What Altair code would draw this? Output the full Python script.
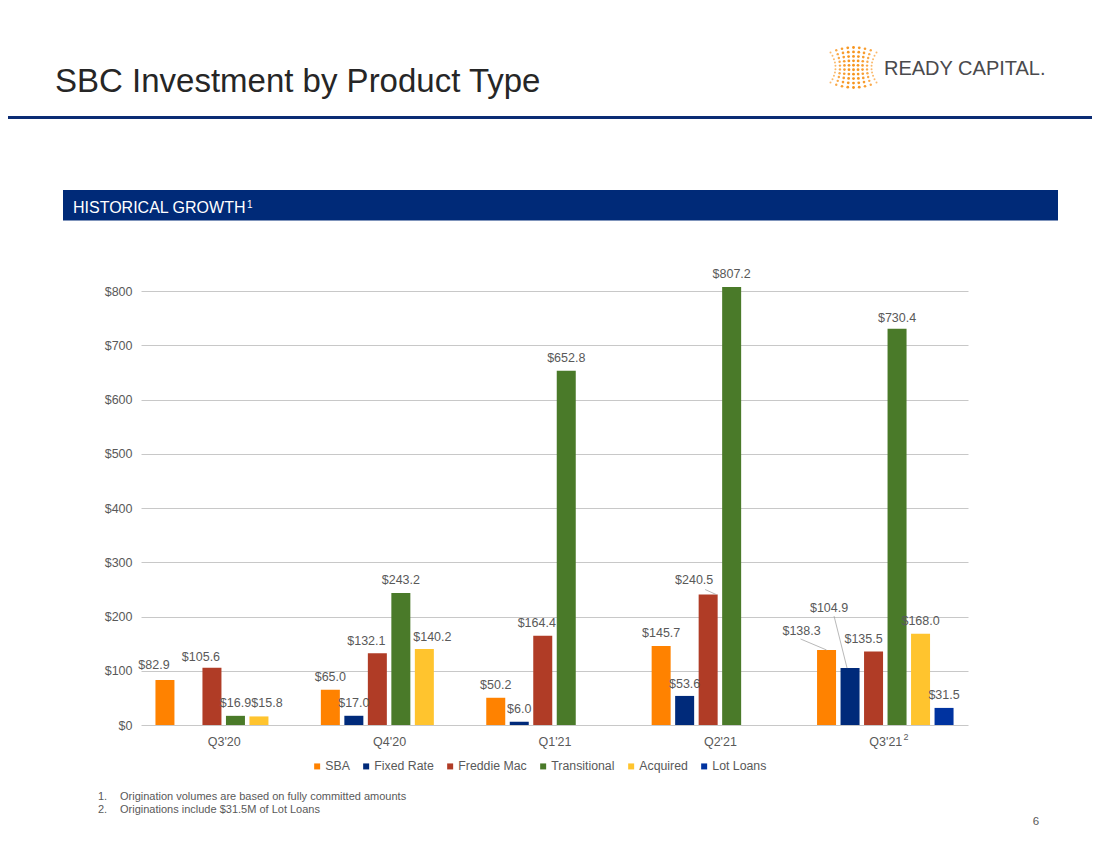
import json
import altair as alt
import pandas as pd

# ---------------- data ----------------
quarters = ["Q3'20", "Q4'20", "Q1'21", "Q2'21", "Q3'21"]
products = ["SBA", "Fixed Rate", "Freddie Mac", "Transitional", "Acquired", "Lot Loans"]
sba = [82.9, 65.0, 50.2, 145.7, 138.3]
fixed_rate = [None, 17.0, 6.0, 53.6, 104.9]
freddie_mac = [105.6, 132.1, 164.4, 240.5, 135.5]
transitional = [16.9, 243.2, 652.8, 807.2, 730.4]
acquired = [15.8, 140.2, None, None, 168.0]
lot_loans = [None, None, None, None, 31.5]
y_ticks = [0, 100, 200, 300, 400, 500, 600, 700, 800]

title_text = "SBC Investment by Product Type"
section_text = "HISTORICAL GROWTH"
section_note = "1"
logo_text = "READY CAPITAL."
footnote_numbers = ["1.", "2."]
footnotes = [
    "Origination volumes are based on fully committed amounts",
    "Originations include $31.5M of Lot Loans",
]
page_number = "6"
q3_21_note = "2"

# ---------------- styles ----------------
colors = ["#FF8200", "#002A7A", "#B03C26", "#4A7A29", "#FFC42E", "#0033A0"]
navy = "#0B2C74"
grey_text = "#595959"
FONT = "Liberation Sans"

# label nudges in px (dx, dy; dy positive = down)
label_nudge = {
    ("Q3'20", "SBA"): (-11, -2),
    ("Q3'20", "Freddie Mac"): (-11, 2),
    ("Q3'20", "Acquired"): (8, 0),
    ("Q4'20", "Freddie Mac"): (-11, 1),
    ("Q4'20", "Acquired"): (8, 1),
    ("Q1'21", "Freddie Mac"): (-6, 0),
    ("Q2'21", "Fixed Rate"): (0, 1),
    ("Q2'21", "Freddie Mac"): (-14, -2),
    ("Q3'21", "SBA"): (-25, -6),
    ("Q3'21", "Fixed Rate"): (-21, -47),
    ("Q3'21", "Freddie Mac"): (-10, 1),
    ("Q3'21", "Transitional"): (0, 2),
}
# leader lines: start (sx, sy) and end (ex, ey) in px relative to bar top centre
leader_lines = {
    ("Q2'21", "Freddie Mac"): (-3, -5, 8, 0),
    ("Q3'21", "SBA"): (-26, -11, 0, 0),
    ("Q3'21", "Fixed Rate"): (-16, -52, -3, 0),
}

# ---------------- layout ----------------
W, H = 827, 434
BAND = W / len(quarters)
SLOT = 23.5
BAR = 19
PXU = H / 800.0

series = [sba, fixed_rate, freddie_mac, transitional, acquired, lot_loans]
rows, lrows = [], []
for qi, q in enumerate(quarters):
    for pi, p in enumerate(products):
        v = series[pi][qi]
        if v is None:
            continue
        dx, dy = label_nudge.get((q, p), (0, 0))
        rows.append(dict(quarter=q, qi=qi, product=p, pi=pi, value=v, dx=dx, dy=dy))
        if (q, p) in leader_lines:
            sx, sy, ex, ey = leader_lines[(q, p)]
            lrows.append(dict(quarter=q, qi=qi, product=p, pi=pi, value=v,
                              sx=sx, sy=sy, ex=ex, ey=ey))
df = pd.DataFrame(rows)
ldf = pd.DataFrame(lrows)
one = pd.DataFrame({"k": [0]})

xscale = alt.Scale(domain=[0, len(quarters)], nice=False, zero=False)
yscale = alt.Scale(domain=[0, 800], nice=False)

xc_expr = f"datum.qi + 0.5 + (datum.pi - 2.5) * {SLOT / BAND}"

x_axis = alt.Axis(
    values=[i + 0.5 for i in range(len(quarters))],
    labelExpr=f"{json.dumps(quarters)}[floor(datum.value)]",
    grid=False, ticks=False, domain=False, title=None,
    labelFontSize=12.5, labelColor=grey_text, labelPadding=10, labelFont=FONT,
)
y_axis = alt.Axis(
    values=y_ticks, labelExpr="'$' + datum.value",
    grid=True, gridColor="#C8C8C8", gridWidth=1, ticks=False, domain=False, title=None,
    labelFontSize=12.5, labelColor=grey_text, labelPadding=9, labelFont=FONT,
)
legend = alt.Legend(
    title=None, orient="none", legendX=170, legendY=469, direction="horizontal",
    symbolType="square", symbolSize=36, symbolStrokeWidth=0,
    labelFontSize=12.3, labelColor=grey_text, labelFont=FONT,
    columnPadding=10, labelOffset=2, padding=0,
)

base = alt.Chart(df).transform_calculate(xc=xc_expr)

bars = base.transform_calculate(
    x0=f"datum.xc - {BAR / 2 / BAND}", x1=f"datum.xc + {BAR / 2 / BAND}"
).mark_rect().encode(
    x=alt.X("x0:Q", scale=xscale, axis=x_axis, title=None),
    x2="x1:Q",
    y=alt.Y("value:Q", scale=yscale, axis=y_axis, title=None),
    y2=alt.datum(0),
    color=alt.Color("product:N", scale=alt.Scale(domain=products, range=colors), legend=legend),
)

labels = base.transform_calculate(
    lx=f"datum.xc + datum.dx / {BAND}",
    ly=f"datum.value - datum.dy / {PXU}",
    label="'$' + format(datum.value, '.1f')",
).mark_text(baseline="alphabetic", dy=-9, fontSize=12.5, color=grey_text, font=FONT).encode(
    x=alt.X("lx:Q", scale=xscale, title=None),
    y=alt.Y("ly:Q", scale=yscale, title=None),
    text="label:N",
)

leaders = alt.Chart(ldf).transform_calculate(xc=xc_expr).transform_calculate(
    xs=f"datum.xc + datum.sx / {BAND}", xe=f"datum.xc + datum.ex / {BAND}",
    ys=f"datum.value - datum.sy / {PXU}", ye=f"datum.value - datum.ey / {PXU}",
).mark_rule(color="#A6A6A6", strokeWidth=0.8).encode(
    x=alt.X("xs:Q", scale=xscale, title=None), x2="xe:Q",
    y=alt.Y("ys:Q", scale=yscale, title=None), y2="ye:Q",
)

sup = alt.Chart(one).mark_text(
    dx=20.7, fontSize=9, baseline="alphabetic", color=grey_text, font=FONT
).encode(x=alt.datum(len(quarters) - 0.5), y=alt.value(449), text=alt.value(q3_21_note))


def text_at(x, y, txt, **kw):
    return alt.Chart(one).mark_text(font=FONT, baseline="alphabetic", **kw).encode(
        x=alt.value(x), y=alt.value(y), text=alt.value(txt)
    )


title = text_at(-86, -199, title_text, align="left", fontSize=33, color="#262626")
top_rule = alt.Chart(one).mark_rule(color=navy, strokeWidth=3).encode(
    x=alt.value(-141), x2=alt.value(959), y=alt.value(-173.5)
)
band = alt.Chart(one).mark_rect(color="#002A78").encode(
    x=alt.value(-78), x2=alt.value(917), y=alt.value(-101), y2=alt.value(-70.5)
)
band_text = text_at(-68, -78.3, section_text, align="left", fontSize=16, color="white")
band_note = text_at(106, -83, section_note, align="left", fontSize=10, color="white")
logo_word = text_at(743, -216.5, logo_text, align="left", fontSize=20, color="#4A4A4D")
fn = []
for i, (n, t) in enumerate(zip(footnote_numbers, footnotes)):
    fn.append(text_at(-43, 509 + 13.3 * i, n, align="left", fontSize=11, color=grey_text))
    fn.append(text_at(-21, 509 + 13.3 * i, t, align="left", fontSize=11, color=grey_text))
pnum = text_at(895, 534, page_number, align="center", fontSize=11.5, color=grey_text)

# decorative logo mark (dot lattice)
lx, ly, ls, lo = [], [], [], []
for c in range(-4, 5):
    for r in range(10):
        t = (r - 4.5) / 4.5
        u = c / 4.0
        lx.append(712.5 + u * (18 + 5 * t * t))
        ly.append(-223.5 + t * (20 - 5 * u * u))
        ls.append(8 - 4 * u * u)
        lo.append(1 - 0.35 * u * u)
logo_df = pd.DataFrame({"x": lx, "y": ly, "s": ls, "o": lo})
logo = alt.Chart(logo_df).mark_circle(color="#F7941D").encode(
    x=alt.X("x:Q", scale=alt.Scale(domain=[680, 745], range=[680, 745], nice=False, zero=False), axis=None),
    y=alt.Y("y:Q", scale=alt.Scale(domain=[-250, -195], range=[-250, -195], nice=False, zero=False), axis=None),
    size=alt.Size("s:Q", scale=None, legend=None),
    opacity=alt.Opacity("o:Q", scale=None, legend=None),
)

main = alt.layer(band, top_rule, title, band_text, band_note, logo_word, *fn, pnum,
                 bars, leaders, labels, sup)

chart = alt.layer(main, logo).resolve_scale(
    x="independent", y="independent"
).properties(
    width=W, height=H,
    padding={"left": 133, "top": 283, "right": 124, "bottom": 117},
    autosize=alt.AutoSizeParams(type="none"),
).configure(font=FONT).configure_view(stroke=None)

chart.save("out.html", embed_options={"renderer": "svg", "actions": False})
